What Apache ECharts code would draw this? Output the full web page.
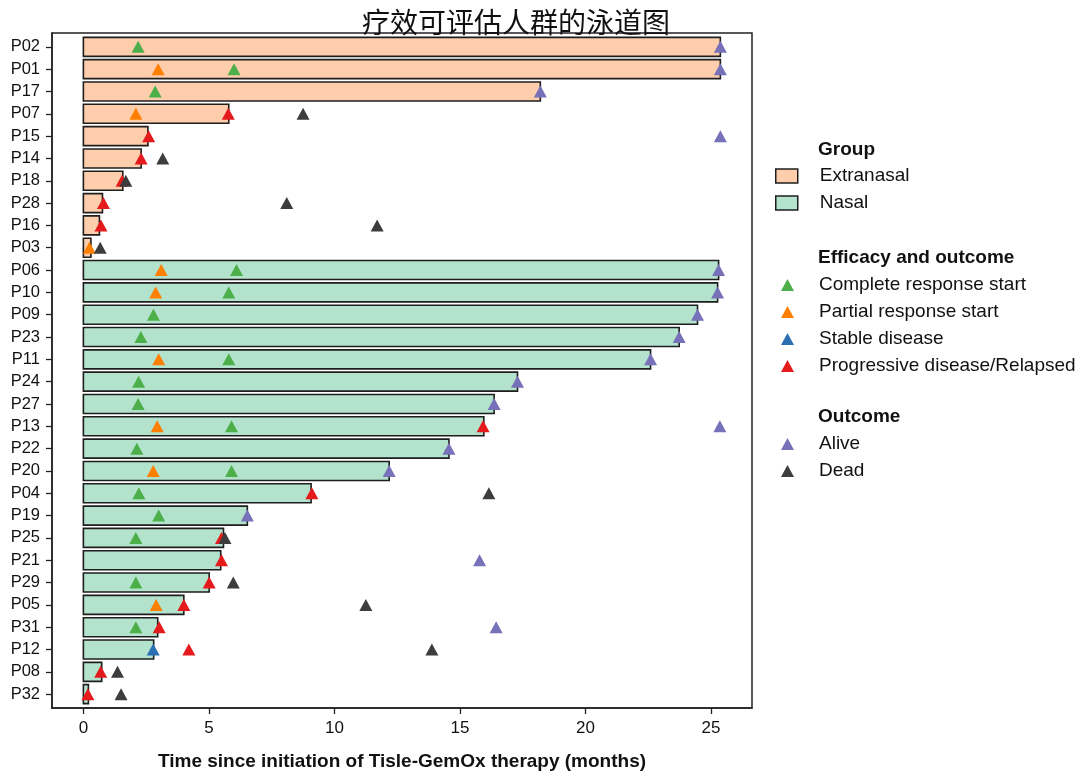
<!DOCTYPE html>
<html>
<head>
<meta charset="utf-8">
<script src="https://cdn.jsdelivr.net/npm/echarts@6/dist/echarts.min.js"></script>
<style>html,body{margin:0;padding:0;background:#fff}#c{width:1080px;height:776px}</style>
</head>
<body>
<div id="c"></div>
<script>
// ---- data ----
const categories = ['P02','P01','P17','P07','P15','P14','P18','P28','P16','P03',
  'P06','P10','P09','P23','P11','P24','P27','P13','P22','P20',
  'P04','P19','P25','P21','P29','P05','P31','P12','P08','P32'];
const groups = ['Extranasal','Extranasal','Extranasal','Extranasal','Extranasal','Extranasal','Extranasal','Extranasal','Extranasal','Extranasal',
  'Nasal','Nasal','Nasal','Nasal','Nasal','Nasal','Nasal','Nasal','Nasal','Nasal',
  'Nasal','Nasal','Nasal','Nasal','Nasal','Nasal','Nasal','Nasal','Nasal','Nasal'];
const durations = [25.37,25.37,18.2,5.79,2.57,2.3,1.57,0.76,0.64,0.3,
  25.3,25.26,24.46,23.73,22.59,17.29,16.36,15.95,14.56,12.18,
  9.07,6.53,5.58,5.47,5.01,4.0,2.96,2.8,0.73,0.2];
const completeResp = [['P02',2.18],['P01',6.0],['P17',2.86],['P06',6.1],['P10',5.79],['P09',2.79],['P23',2.29],
  ['P11',5.79],['P24',2.2],['P27',2.18],['P13',5.9],['P22',2.13],['P20',5.9],['P04',2.21],['P19',3.0],
  ['P25',2.09],['P29',2.09],['P31',2.09]];
const partialResp = [['P01',2.98],['P07',2.09],['P03',0.24],['P06',3.1],['P10',2.88],['P11',3.0],['P13',2.94],
  ['P20',2.78],['P05',2.9]];
const stableDisease = [['P12',2.78]];
const progressive = [['P07',5.77],['P15',2.6],['P14',2.3],['P18',1.54],['P28',0.8],['P16',0.7],['P13',15.92],
  ['P04',9.1],['P25',5.5],['P21',5.5],['P29',5.01],['P05',4.0],['P31',3.02],['P12',4.2],['P08',0.69],['P32',0.18]];
const alive = [['P02',25.37],['P01',25.37],['P17',18.2],['P15',25.37],['P06',25.3],['P10',25.26],['P09',24.46],
  ['P23',23.73],['P11',22.59],['P24',17.29],['P27',16.36],['P13',25.35],['P22',14.56],['P20',12.18],
  ['P19',6.53],['P21',15.78],['P31',16.44]];
const dead = [['P07',8.75],['P14',3.16],['P18',1.69],['P28',8.1],['P16',11.7],['P03',0.67],['P04',16.15],
  ['P25',5.64],['P29',5.97],['P05',11.25],['P12',13.88],['P08',1.36],['P32',1.5]];
const xTicks = [0,5,10,15,20,25];

// ---- build ----
const rowIdx = categories.map((c,i)=>i);
const toPts = arr => arr.map(d => [d[1], categories.indexOf(d[0])]);
const barData = g => categories.map((c,i)=> groups[i]===g ? [durations[i], i] : null).filter(Boolean);
const groupColor = {Extranasal:'#fdcdac', Nasal:'#b3e2cd'};

function barSeries(name){
  return {
    name, type:'custom', data: barData(name),
    itemStyle:{color:groupColor[name]},
    renderItem:(params, api)=>{
      const y = api.value(1);
      const p0 = api.coord([0, y]);
      const p1 = api.coord([api.value(0), y]);
      const h = api.size([0, 0.85])[1];
      return {type:'rect', shape:{x:p0[0], y:p0[1]-h/2, width:p1[0]-p0[0], height:h},
        style:{fill:groupColor[name], stroke:'#1e1e1e', lineWidth:1.6}};
    }, z:2
  };
}
const triSize = [13,12];
function tri(name, data, color){
  return {name, type:'scatter', data: toPts(data), symbol:'triangle', symbolSize:triSize,
    itemStyle:{color, opacity:1}, z:5};
}
const FONT = 'Liberation Sans, Arial, sans-serif';
const legText = {fontSize:19, fontFamily:FONT, color:'#111', lineHeight:19};

const option = {
  animation:false,
  title:{text:'疗效可评估人群的泳道图', left:357, top:3,
    textStyle:{fontFamily:'Noto Sans CJK SC', fontSize:28, fontWeight:'normal', color:'#111'}},
  grid:{left:52, right:328, top:33, bottom:67, show:true, borderColor:'#222', borderWidth:1.5, containLabel:false},
  xAxis:{type:'value', min:-1.25, max:26.63,
    axisLine:{show:true, onZero:false, lineStyle:{color:'#222', width:1.5}},
    axisTick:{show:true, customValues:xTicks, length:6, lineStyle:{color:'#222', width:1.3}},
    axisLabel:{customValues:xTicks, fontSize:17, fontFamily:FONT, color:'#111', margin:12},
    splitLine:{show:false},
    name:'Time since initiation of Tisle-GemOx therapy (months)', nameLocation:'middle', nameGap:44,
    nameTextStyle:{fontSize:19, fontWeight:'bold', fontFamily:FONT, color:'#111'}},
  yAxis:{type:'value', inverse:true, min:-0.62, max:29.62,
    axisLine:{show:true, onZero:false, lineStyle:{color:'#222', width:1.5}},
    axisTick:{show:true, customValues:rowIdx, length:6, lineStyle:{color:'#222', width:1.3}},
    axisLabel:{customValues:rowIdx, formatter:v=>categories[Math.round(v)], fontSize:16.5, fontFamily:FONT, color:'#111', margin:12, padding:[3,0,0,0]},
    splitLine:{show:false}},
  legend:[
    {orient:'vertical', left:775, top:166.5, padding:0, itemGap:8, itemWidth:22, itemHeight:14,
      textStyle:Object.assign({padding:[0,0,0,17]}, legText),
      data:[{name:'Extranasal', icon:'rect', itemStyle:{color:'#fdcdac', borderColor:'#1e1e1e', borderWidth:1.5}},
            {name:'Nasal', icon:'rect', itemStyle:{color:'#b3e2cd', borderColor:'#1e1e1e', borderWidth:1.5}}]},
    {orient:'vertical', left:781, top:275.5, padding:0, itemGap:8, itemWidth:13, itemHeight:12,
      textStyle:Object.assign({padding:[0,0,0,20]}, legText),
      data:[{name:'Complete response start', icon:'triangle'},{name:'Partial response start', icon:'triangle'},
            {name:'Stable disease', icon:'triangle'},{name:'Progressive disease/Relapsed', icon:'triangle'}]},
    {orient:'vertical', left:781, top:434.5, padding:0, itemGap:8, itemWidth:13, itemHeight:12,
      textStyle:Object.assign({padding:[0,0,0,20]}, legText),
      data:[{name:'Alive', icon:'triangle'},{name:'Dead', icon:'triangle'}]}
  ],
  graphic:[
    {type:'text', left:818, top:140, style:{text:'Group', fontSize:19, fontWeight:'bold', fontFamily:FONT, fill:'#111'}},
    {type:'text', left:818, top:248, style:{text:'Efficacy and outcome', fontSize:19, fontWeight:'bold', fontFamily:FONT, fill:'#111'}},
    {type:'text', left:818, top:407, style:{text:'Outcome', fontSize:19, fontWeight:'bold', fontFamily:FONT, fill:'#111'}}
  ],
  series:[
    barSeries('Extranasal'),
    barSeries('Nasal'),
    tri('Complete response start', completeResp, '#4daf4a'),
    tri('Partial response start', partialResp, '#ff7f00'),
    tri('Stable disease', stableDisease, '#2b6fb3'),
    tri('Progressive disease/Relapsed', progressive, '#e41a1c'),
    tri('Alive', alive, '#7671b8'),
    tri('Dead', dead, '#3d3d3d')
  ]
};
const chart = echarts.init(document.getElementById('c'), null, {renderer:'canvas'});
chart.setOption(option);
</script>
</body>
</html>
